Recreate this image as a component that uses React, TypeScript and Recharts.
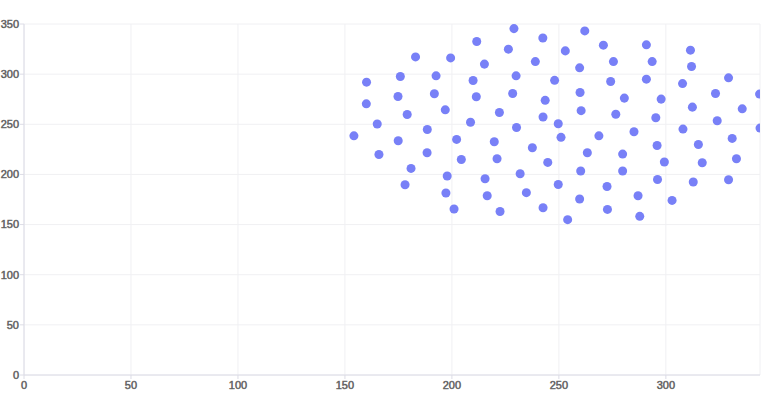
import {
  CartesianGrid,
  Scatter,
  ScatterChart,
  XAxis,
  YAxis,
  ZAxis,
} from "recharts";

// values
const xValues = [
  229, 242.5, 211.6, 183, 199.4, 226.4, 215.2, 239, 160.1, 175.9,
  192.6, 209.9, 230, 248, 160, 174.8, 191.8, 211.4, 228.4, 243.6,
  179.1, 196.9, 222.2, 242.6, 249.7, 165.1, 208.7, 230.2, 188.5, 154.2,
  262.1, 253, 270.8, 290.9, 311.5, 259.7, 275.5, 293.6, 312, 274.2,
  290.9, 307.8, 329.3, 323.2, 343.8, 259.9, 280.6, 297.8, 312.4, 335.7,
  260.4, 276.6, 295.3, 324, 308, 344, 285.1, 268.7, 251, 331,
  174.9, 202.2, 219.8, 165.9, 188.4, 204.4, 221.1, 237.6, 244.8, 180.9,
  197.8, 215.5, 231.9, 178.1, 197.2, 216.5, 234.8, 249.7, 201, 222.5,
  242.6, 295.9, 315.2, 263.3, 279.8, 299.3, 317, 333, 260.2, 279.8,
  272.5, 296.1, 312.8, 329.3, 259.7, 287, 302.9, 272.7, 254.1, 287.8,
];

const yValues = [
  345.4, 336, 332.5, 317.2, 316.2, 324.9, 310, 312.5, 292, 297.6,
  298.3, 293.6, 298.3, 293.8, 270.4, 277.7, 280.4, 277.4, 280.7, 273.9,
  259.7, 264.4, 261.7, 257.2, 250.5, 250.3, 252, 246.8, 244.8, 238.5,
  343.1, 323.2, 328.9, 329.2, 323.9, 306.3, 312.5, 312.5, 307.6, 292.6,
  295, 290.6, 296.3, 280.7, 280.1, 281.7, 276.1, 275.1, 267.1, 265.4,
  263.6, 260, 256.5, 253.5, 245.2, 246.2, 242.5, 238.5, 237, 235.9,
  233.6, 234.9, 232.6, 219.9, 221.6, 214.9, 215.6, 226.6, 212, 206,
  198.4, 195.7, 200.7, 189.7, 181.5, 178.8, 181.8, 190, 165.5, 163.1,
  166.8, 228.9, 229.9, 221.6, 220.3, 212.4, 211.7, 215.6, 203.4, 203.4,
  188, 195, 192.4, 194.7, 175.5, 178.8, 174.1, 165.1, 154.9, 158.2,
];

const xTicks = [0, 50, 100, 150, 200, 250, 300];
const yTicks = [0, 50, 100, 150, 200, 250, 300, 350];

const points = xValues.map((x, i) => ({ x, y: yValues[i] }));
const xMax = Math.max(...xValues);

const tickStyle = {
  fill: "#2e2e2e",
  stroke: "#777",
  strokeWidth: 0.5,
  fontSize: 11,
  fontFamily: "'Liberation Sans', Arial, sans-serif",
};

export default function App() {
  return (
    <div style={{ position: "absolute", left: 0, top: 0 }}>
      <ScatterChart
        width={784}
        height={400}
        margin={{ top: 24, right: 24, left: 0, bottom: 0 }}
      >
        <CartesianGrid stroke="#f0f0f3" />
        <XAxis
          type="number"
          dataKey="x"
          domain={[0, xMax]}
          ticks={xTicks}
          allowDataOverflow
          height={25}
          tickSize={4}
          tick={tickStyle}
          stroke="#dcdce6"
        />
        <YAxis
          type="number"
          dataKey="y"
          domain={[0, 350]}
          ticks={yTicks}
          width={24}
          tickSize={4}
          tickMargin={1}
          tick={tickStyle}
          stroke="#dcdce6"
        />
        <ZAxis range={[80, 80]} />
        <Scatter data={points} fill="#7880f7" isAnimationActive={false} />
      </ScatterChart>
    </div>
  );
}
